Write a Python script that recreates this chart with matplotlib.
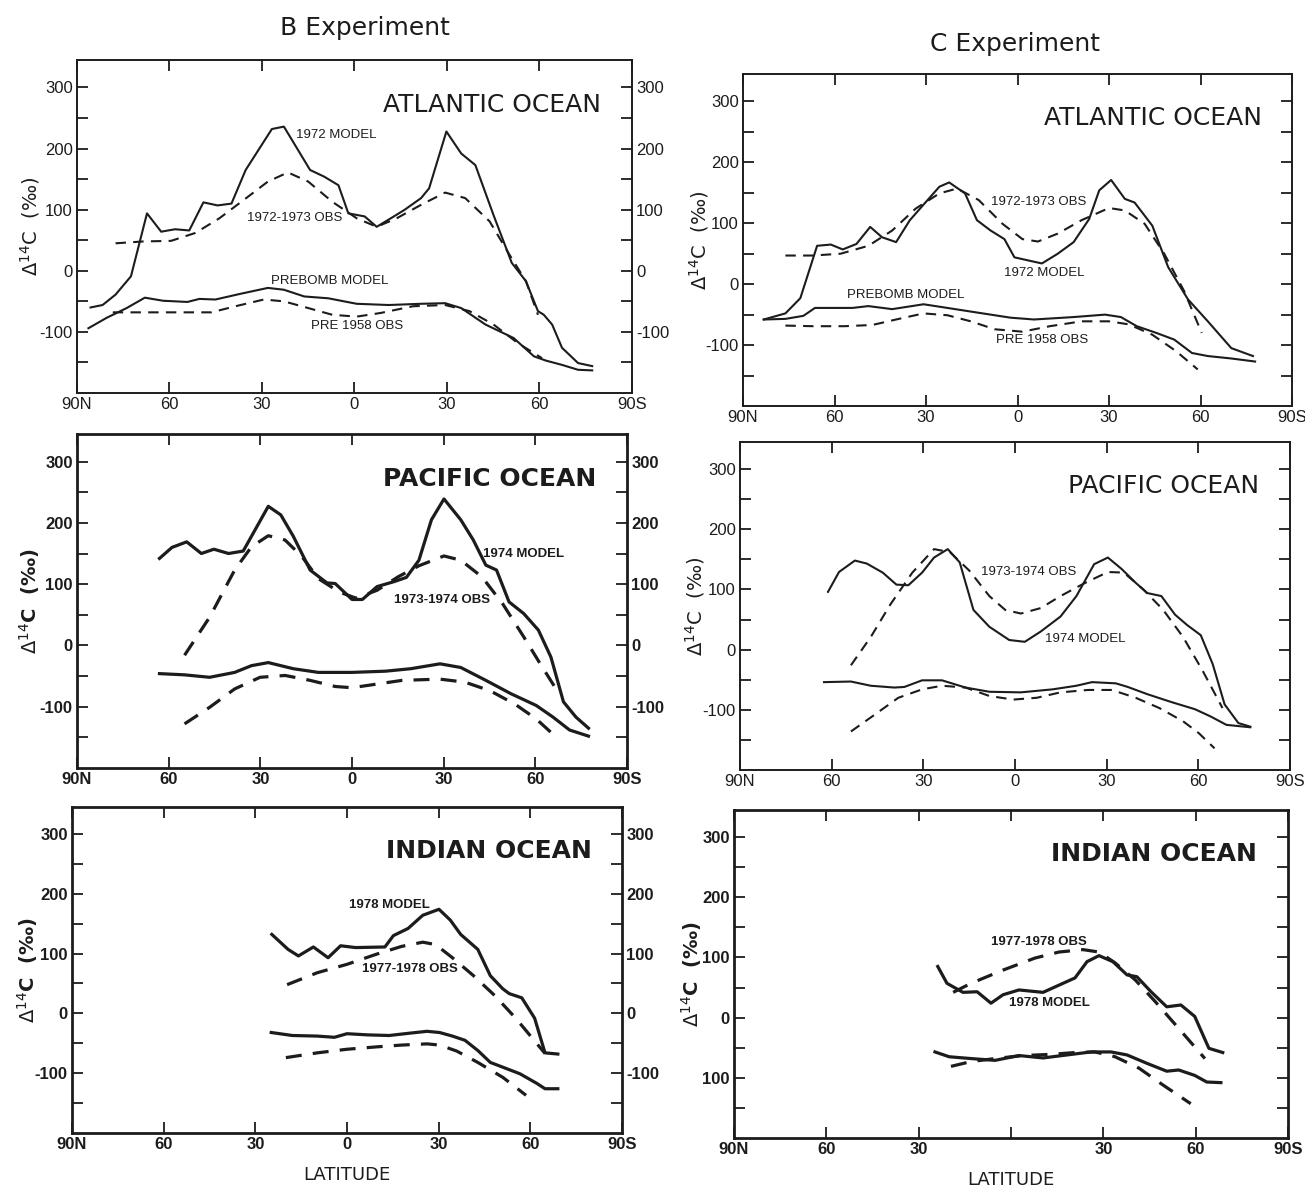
import matplotlib
matplotlib.use('Agg')
import matplotlib.pyplot as plt

# latitude in degrees: north negative, south positive (axis runs 90N -> 90S)

# ---- B experiment, Atlantic
b_atl_mod_lat = [-85.6, -81.7, -77.5, -72.5, -67.3, -62.7, -58.2, -53.6, -49.0, -44.4, -39.9, -35.3,
                 -26.8, -22.9, -14.4, -9.8, -5.2, -2.0, 3.3, 7.2, 11.8, 16.3, 21.6, 24.2, 29.8, 34.6,
                 39.2, 45.1, 51.0, 55.6, 59.5, 61.4, 64.1, 67.3, 72.5, 77.1]
b_atl_mod = [-60, -56, -39, -9, 94, 64, 68, 66, 112, 107, 110, 165, 232, 236, 165, 154, 140, 94,
             89, 72, 86, 100, 119, 135, 228, 192, 173, 91, 13, -17, -66, -72, -88, -126, -151, -156]
b_atl_obs_lat = [-77.5, -68.6, -59.5, -51.6, -43.8, -34.6, -28.1, -21.6, -15.0, -7.2, 0.7, 7.2,
                 13.7, 21.6, 29.4, 35.9, 43.8, 50.3, 55.6, 59.5]
b_atl_obs = [45, 48, 49, 62, 86, 121, 146, 161, 146, 113, 86, 72, 86, 108, 128, 119, 81, 26, -17, -72]
b_atl_pre_lat = [-86.3, -80.4, -73.9, -68.0, -62.1, -54.2, -50.3, -45.1, -37.3, -28.1, -22.9, -16.3,
                 -8.5, 0.7, 11.1, 21.6, 29.4, 34.6, 42.5, 51.6, 58.2, 62.1, 67.3, 72.5, 77.1]
b_atl_pre = [-94, -77, -61, -44, -49, -51, -46, -47, -38, -28, -31, -42, -45, -54, -56, -54, -53,
             -61, -88, -110, -140, -147, -154, -162, -163]
b_atl_pobs_lat = [-78.4, -67.3, -56.9, -46.4, -38.6, -29.4, -22.9, -15.0, -7.2, 0.7, 8.5, 19.0,
                  29.4, 37.3, 45.1, 52.9, 60.8]
b_atl_pobs = [-68, -68, -68, -68, -58, -47, -50, -61, -72, -75, -69, -58, -56, -66, -88, -118, -143]

# ---- C experiment, Atlantic
c_atl_mod_lat = [-83.2, -76.1, -71.2, -65.7, -61.2, -57.3, -52.8, -48.3, -44.4, -39.8, -35.3, -29.5,
                 -25.6, -22.4, -17.2, -13.3, -8.8, -4.3, -1.0, 8.0, 13.2, 18.4, 23.5, 26.8, 30.7,
                 35.2, 38.4, 44.2, 49.4, 55.9, 62.4, 70.1, 77.2]
c_atl_mod = [-58, -48, -23, 63, 65, 57, 66, 94, 77, 69, 105, 138, 160, 167, 149, 105, 88, 74, 44,
             34, 50, 69, 107, 154, 171, 140, 134, 96, 28, -25, -61, -105, -118]
c_atl_obs_lat = [-76.1, -67.0, -58.0, -48.9, -41.1, -33.4, -25.6, -19.8, -12.7, -4.9, 1.6, 6.7,
                 13.2, 21.0, 30.0, 35.2, 41.7, 48.1, 54.6, 60.4]
c_atl_obs = [47, 47, 50, 63, 88, 124, 149, 157, 138, 99, 74, 70, 83, 105, 125, 121, 99, 50, -11, -80]
c_atl_pre_lat = [-83.2, -76.1, -70.2, -66.4, -59.3, -54.1, -48.9, -41.1, -30.8, -23.0, -12.7, -2.3,
                 5.4, 18.4, 28.7, 33.9, 39.1, 45.5, 51.4, 57.2, 62.4, 70.1, 77.9]
c_atl_pre = [-58, -57, -52, -39, -39, -39, -36, -41, -33, -39, -47, -55, -58, -54, -50, -54, -69,
             -80, -91, -113, -118, -122, -127]
c_atl_pobs_lat = [-76.1, -67.0, -56.7, -47.6, -39.8, -30.8, -23.0, -15.3, -7.5, 1.6, 10.6, 21.0,
                  30.0, 36.5, 44.2, 52.0, 59.1]
c_atl_pobs = [-68, -69, -69, -67, -58, -48, -51, -61, -74, -78, -69, -61, -61, -66, -83, -110, -140]

# ---- B experiment, Pacific
b_pac_mod_lat = [-63.0, -58.9, -54.1, -49.3, -45.2, -40.4, -35.6, -27.4, -23.3, -19.2, -13.7, -8.2,
                 -5.5, 0.0, 3.4, 8.2, 13.7, 17.8, 21.9, 26.0, 30.1, 35.6, 39.7, 43.8, 47.3, 51.4,
                 56.2, 61.0, 65.1, 69.2, 73.3, 77.4]
b_pac_mod = [142, 160, 169, 150, 157, 150, 154, 227, 213, 178, 123, 102, 101, 75, 75, 96, 104, 111,
             139, 205, 239, 205, 172, 131, 123, 71, 52, 25, -19, -92, -117, -135]
b_pac_obs_lat = [-54.8, -46.6, -38.4, -32.9, -27.4, -21.9, -16.4, -11.0, -4.1, 1.4, 8.2, 15.1, 21.9,
                 30.1, 35.6, 42.5, 49.3, 56.2, 61.6, 66.4]
b_pac_obs = [-16, 46, 123, 161, 179, 172, 145, 109, 87, 77, 90, 112, 130, 146, 139, 112, 68, 14, -30, -68]
b_pac_pre_lat = [-63.0, -54.8, -46.6, -38.4, -32.9, -27.4, -19.2, -11.0, 0.0, 11.0, 19.2, 28.8, 35.6,
                 43.8, 52.1, 60.3, 65.8, 71.2, 77.4]
b_pac_pre = [-46, -48, -52, -44, -33, -28, -38, -44, -44, -42, -38, -30, -36, -57, -79, -98, -117,
             -138, -148]
b_pac_pobs_lat = [-54.8, -46.6, -38.4, -30.1, -21.9, -13.7, -5.5, 0.0, 8.2, 16.4, 28.8, 37.0, 45.2,
                  53.4, 60.3, 65.8]
b_pac_pobs = [-128, -101, -71, -52, -49, -57, -67, -69, -63, -57, -55, -60, -74, -96, -120, -145]

# ---- C experiment, Pacific
c_pac_mod_lat = [-61.2, -57.6, -52.4, -48.5, -43.3, -38.8, -34.9, -30.4, -26.5, -22.0, -18.1, -13.6,
                 -8.4, -1.9, 3.2, 8.4, 14.9, 20.1, 25.9, 30.4, 34.9, 39.5, 43.3, 47.9, 52.4, 56.3,
                 60.8, 64.7, 68.6, 73.1, 77.0]
c_pac_mod = [96, 129, 148, 143, 128, 108, 107, 128, 153, 167, 145, 66, 38, 16, 13, 30, 55, 89, 142,
             153, 134, 111, 94, 89, 58, 41, 24, -24, -91, -122, -128]
c_pac_obs_lat = [-53.7, -47.2, -40.8, -33.6, -26.5, -21.3, -14.9, -8.4, -3.2, 1.9, 8.4, 14.9, 22.6,
                 30.4, 35.6, 42.0, 48.5, 55.0, 61.4, 67.9]
c_pac_obs = [-26, 21, 75, 128, 167, 162, 131, 89, 66, 60, 69, 89, 110, 129, 128, 100, 66, 21, -35, -97]
c_pac_pre_lat = [-62.5, -53.7, -47.2, -39.5, -36.2, -30.4, -23.9, -16.2, -8.4, 1.9, 12.3, 20.1, 25.2,
                 33.0, 36.9, 43.3, 51.1, 58.9, 64.0, 69.2, 77.0]
c_pac_pre = [-54, -53, -60, -63, -62, -51, -51, -63, -70, -71, -66, -60, -54, -56, -62, -74, -87,
             -99, -111, -125, -129]
c_pac_pobs_lat = [-53.7, -45.9, -38.2, -30.4, -23.9, -16.2, -8.4, -0.6, 7.1, 14.9, 23.9, 31.7, 39.5,
                  47.2, 55.0, 60.2, 65.3]
c_pac_pobs = [-136, -108, -80, -66, -60, -63, -77, -83, -80, -71, -67, -67, -80, -97, -119, -139, -164]

# ---- B experiment, Indian
b_ind_mod_lat = [-24.6, -19.3, -15.9, -11.0, -6.2, -2.1, 2.8, 12.4, 15.2, 20.0, 24.8, 30.1, 33.8,
                 37.2, 42.8, 46.9, 51.0, 53.1, 57.2, 61.4, 64.8, 69.0]
b_ind_mod = [132, 107, 96, 111, 93, 113, 110, 111, 130, 142, 164, 174, 156, 132, 107, 63, 41, 33,
             26, -8, -66, -68]
b_ind_obs_lat = [-19.6, -9.7, 0.0, 9.7, 17.9, 24.8, 29.0, 34.5, 41.4, 48.3, 55.2, 64.8]
b_ind_obs = [48, 68, 82, 99, 112, 119, 115, 93, 63, 30, -8, -67]
b_ind_pre_lat = [-24.8, -17.9, -9.7, -4.1, 0.0, 6.9, 13.8, 20.7, 26.2, 30.3, 34.5, 38.6, 42.8, 46.9,
                 51.0, 56.6, 62.1, 64.8, 69.0]
b_ind_pre = [-32, -37, -38, -40, -34, -36, -37, -33, -30, -32, -38, -45, -62, -82, -90, -101, -117,
             -126, -126]
b_ind_pobs_lat = [-20.0, -9.7, 0.0, 9.7, 17.9, 26.2, 30.3, 35.9, 42.8, 51.0, 58.6]
b_ind_pobs = [-74, -66, -60, -56, -53, -51, -53, -63, -82, -107, -137]

# ---- C experiment, Indian
c_ind_mod_lat = [-23.8, -20.8, -15.6, -11.0, -6.5, -2.6, 2.6, 10.4, 16.9, 20.8, 24.7, 28.6, 33.1,
                 37.7, 40.9, 45.5, 50.6, 55.2, 59.7, 64.3, 68.8]
c_ind_mod = [85, 57, 42, 43, 24, 38, 46, 42, 57, 66, 93, 103, 93, 71, 68, 43, 18, 21, 2, -51, -58]
c_ind_obs_lat = [-18.8, -13.0, -2.6, 7.8, 15.6, 23.4, 28.6, 33.8, 40.3, 46.8, 54.5, 63.0]
c_ind_obs = [42, 57, 79, 99, 109, 113, 109, 91, 63, 27, -18, -68]
c_ind_pre_lat = [-24.7, -20.1, -13.0, -5.2, 2.6, 10.4, 18.2, 26.0, 32.5, 37.7, 44.2, 50.6, 54.5,
                 59.7, 63.6, 68.2]
c_ind_pre = [-57, -65, -68, -71, -63, -67, -62, -57, -57, -62, -76, -89, -87, -96, -107, -108]
c_ind_pobs_lat = [-19.5, -13.0, -5.2, 3.9, 13.0, 20.8, 27.3, 33.8, 41.6, 49.4, 58.4]
c_ind_pobs = [-81, -73, -68, -63, -61, -58, -57, -65, -84, -112, -143]

lat_ticks = [-90, -60, -30, 0, 30, 60, 90]
lat_labels = ['90N', '60', '30', '0', '30', '60', '90S']
val_ticks = [300, 200, 100, 0, -100]
val_labels = ['300', '200', '100', '0', '-100']

narrow = ['Liberation Sans', 'DejaVu Sans']
ink = '#1c1c1c'

fig = plt.figure(figsize=(13.05, 11.91), dpi=100)
W, H = 1305, 1191


def panel(box, label_x, series, title, notes, right_labels=False, bold=False,
          xlabels=lat_labels, ylabels=val_labels, latitude=False):
    left, right, top, bottom = box
    ax = fig.add_axes([left / W, 1 - bottom / H, (right - left) / W, (bottom - top) / H])
    wt = 'bold' if bold else 'normal'
    lw = 2.3 if bold else 1.5
    for lat, val, dashed in series:
        ax.plot(lat, val, color=ink, lw=lw, ls=(0, (5, 3.5)) if dashed else '-')
    ax.set_xlim(-90, 90)
    ax.set_ylim(-200, 345)
    ax.set_xticks(lat_ticks)
    ax.set_xticklabels(xlabels, family=narrow, fontsize=12, weight=wt)
    yt = list(range(-150, 301, 50))
    ax.set_yticks(yt)
    ax.set_yticklabels([ylabels[val_ticks.index(v)] if v in val_ticks else '' for v in yt],
                       family=narrow, fontsize=12, weight=wt)
    ax.tick_params(direction='in', length=8, width=1.3, top=True, right=True,
                   labelright=right_labels, colors=ink, pad=3)
    for s in ax.spines.values():
        s.set_linewidth(2.0 if bold else 1.4)
        s.set_color(ink)
    ax.text(80, 272, title, ha='right', va='center', fontsize=18, color=ink, weight=wt)
    for x, y, t in notes:
        ax.text(x, y, t, ha='left', va='center', family=narrow, fontsize=9.5, color=ink, weight=wt)
    fig.text(label_x / W, 1 - (top + bottom) / 2 / H, r'$\Delta^{14}$C  (‰)', rotation=90,
             ha='center', va='center', fontsize=14, color=ink, weight=wt)
    if latitude:
        ax.set_xlabel('LATITUDE', fontsize=13, color=ink, labelpad=10)
    return ax


panel((77, 632, 60, 393), 30,
      [(b_atl_mod_lat, b_atl_mod, False), (b_atl_obs_lat, b_atl_obs, True),
       (b_atl_pre_lat, b_atl_pre, False), (b_atl_pobs_lat, b_atl_pobs, True)],
      'ATLANTIC OCEAN',
      [(-19, 222, '1972 MODEL'), (-35, 86, '1972-1973 OBS'), (-27, -16, 'PREBOMB MODEL'),
       (-14, -91, 'PRE 1958 OBS')], right_labels=True)

panel((77, 627, 434, 768), 30,
      [(b_pac_mod_lat, b_pac_mod, False), (b_pac_obs_lat, b_pac_obs, True),
       (b_pac_pre_lat, b_pac_pre, False), (b_pac_pobs_lat, b_pac_pobs, True)],
      'PACIFIC OCEAN',
      [(43, 150, '1974 MODEL'), (13.7, 74, '1973-1974 OBS')], right_labels=True, bold=True)

panel((72, 622, 807, 1133), 28,
      [(b_ind_mod_lat, b_ind_mod, False), (b_ind_obs_lat, b_ind_obs, True),
       (b_ind_pre_lat, b_ind_pre, False), (b_ind_pobs_lat, b_ind_pobs, True)],
      'INDIAN OCEAN',
      [(0.7, 181, '1978 MODEL'), (4.8, 74, '1977-1978 OBS')], right_labels=True, bold=True,
      latitude=True)

panel((743, 1292, 74, 406), 699,
      [(c_atl_mod_lat, c_atl_mod, False), (c_atl_obs_lat, c_atl_obs, True),
       (c_atl_pre_lat, c_atl_pre, False), (c_atl_pobs_lat, c_atl_pobs, True)],
      'ATLANTIC OCEAN',
      [(-8.8, 135, '1972-1973 OBS'), (-4.3, 19, '1972 MODEL'), (-56, -18, 'PREBOMB MODEL'),
       (-7.2, -92, 'PRE 1958 OBS')])

panel((740, 1290, 442, 770), 695,
      [(c_pac_mod_lat, c_pac_mod, False), (c_pac_obs_lat, c_pac_obs, True),
       (c_pac_pre_lat, c_pac_pre, False), (c_pac_pobs_lat, c_pac_pobs, True)],
      'PACIFIC OCEAN',
      [(-11, 129, '1973-1974 OBS'), (9.7, 17, '1974 MODEL')])

panel((734, 1288, 810, 1138), 692,
      [(c_ind_mod_lat, c_ind_mod, False), (c_ind_obs_lat, c_ind_obs, True),
       (c_ind_pre_lat, c_ind_pre, False), (c_ind_pobs_lat, c_ind_pobs, True)],
      'INDIAN OCEAN',
      [(-6.5, 126, '1977-1978 OBS'), (-0.6, 24, '1978 MODEL')], bold=True,
      xlabels=['90N', '60', '30', '', '30', '60', '90S'],
      ylabels=['300', '200', '100', '0', '100'], latitude=True)

fig.text(365 / W, 1 - 28 / H, 'B Experiment', ha='center', va='center', fontsize=18, color=ink)
fig.text(1015 / W, 1 - 44 / H, 'C Experiment', ha='center', va='center', fontsize=18, color=ink)

fig.savefig('out.png', dpi=100, facecolor='white')
